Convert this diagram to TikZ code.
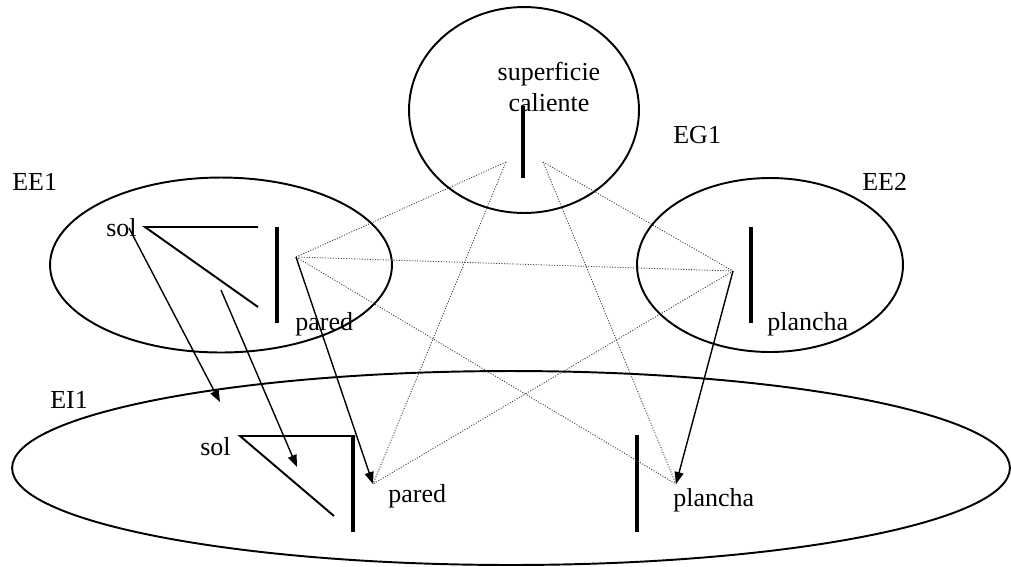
\documentclass[tikz,border=0pt]{standalone}
\usepackage{fontspec}
\setmainfont{Liberation Serif}
\usetikzlibrary{shapes.geometric, arrows.meta}

\begin{document}
\begin{tikzpicture}[
    x=0.02cm, y=-0.02cm,
    font=\fontsize{14.8}{17.6}\selectfont,
    setbox/.style={draw, ellipse, line width=1.1pt, inner sep=0pt, outer sep=0pt},
    setname/.style={inner sep=0pt, anchor=base west},
    objname/.style={inner sep=0pt, anchor=base west},
    wallbar/.style={line width=2.8pt},
    slopeline/.style={line width=1.1pt},
    flow/.style={-{Triangle[length=0.24cm, width=0.18cm]}, line width=0.8pt},
    relation/.style={line width=0.5pt, draw=black!75, dash pattern=on 0.6pt off 0.9pt}
]
\useasboundingbox (0,0) rectangle (1011,566);

% the four states
\node (eg1) [setbox, minimum width=4.6cm, minimum height=4.12cm] at (524,110) {};
\node (ee1) [setbox, minimum width=6.84cm, minimum height=3.5cm] at (221,265) {};
\node (ee2) [setbox, minimum width=5.32cm, minimum height=3.48cm] at (770,265) {};
\node (ei1) [setbox, minimum width=19.96cm, minimum height=3.88cm] at (511,468) {};

\node (eg1_name) [setname] at (673,143) {EG1};
\node (ee1_name) [setname] at (12,190) {EE1};
\node (ee2_name) [setname] at (862,190) {EE2};
\node (ei1_name) [setname] at (50,408) {EI1};

% objects inside each state
\node (eg1_surf) [align=center, inner sep=0pt] at (549,87) {superficie\\caliente};
\node (ee1_sol) [objname] at (106,236) {sol};
\node (ee1_pared) [objname] at (295,330) {pared};
\node (ee2_plancha) [objname] at (767,330) {plancha};
\node (ei1_sol) [objname] at (200,455) {sol};
\node (ei1_pared) [objname] at (388,502) {pared};
\node (ei1_plancha) [objname] at (673,506) {plancha};

\draw [wallbar] (523,106) -- (523,178);
\draw [wallbar] (277,227) -- (277,323);
\draw [wallbar] (751,227) -- (751,323);
\draw [wallbar] (353,436) -- (353,532);
\draw [wallbar] (637,435) -- (637,532);

\draw [slopeline] (258,227) -- (145,227) -- (258,307);
\draw [slopeline] (355,436) -- (240,436) -- (334,516);

% meeting points of the relations
\coordinate (p_ee1) at (296,257);
\coordinate (p_eg1l) at (506,162);
\coordinate (p_eg1r) at (543,162);
\coordinate (p_ee2) at (733,271);
\coordinate (p_pared) at (373,484);
\coordinate (p_plancha) at (676,484);

\draw [relation] (p_ee1) -- (p_eg1l);
\draw [relation] (p_ee1) -- (p_ee2);
\draw [relation] (p_ee1) -- (p_plancha);
\draw [relation] (p_eg1l) -- (p_pared);
\draw [relation] (p_eg1r) -- (p_ee2);
\draw [relation] (p_eg1r) -- (p_plancha);
\draw [relation] (p_ee2) -- (p_pared);

% transitions
\coordinate (sol_from) at (129,228);
\coordinate (sol_to) at (220,402);
\coordinate (slope_from) at (221,290);
\coordinate (slope_to) at (297,467);

\draw [flow] (sol_from) -- (sol_to);
\draw [flow] (slope_from) -- (slope_to);
\draw [flow] (p_ee1) -- (p_pared);
\draw [flow] (p_ee2) -- (p_plancha);

\end{tikzpicture}
\end{document}
